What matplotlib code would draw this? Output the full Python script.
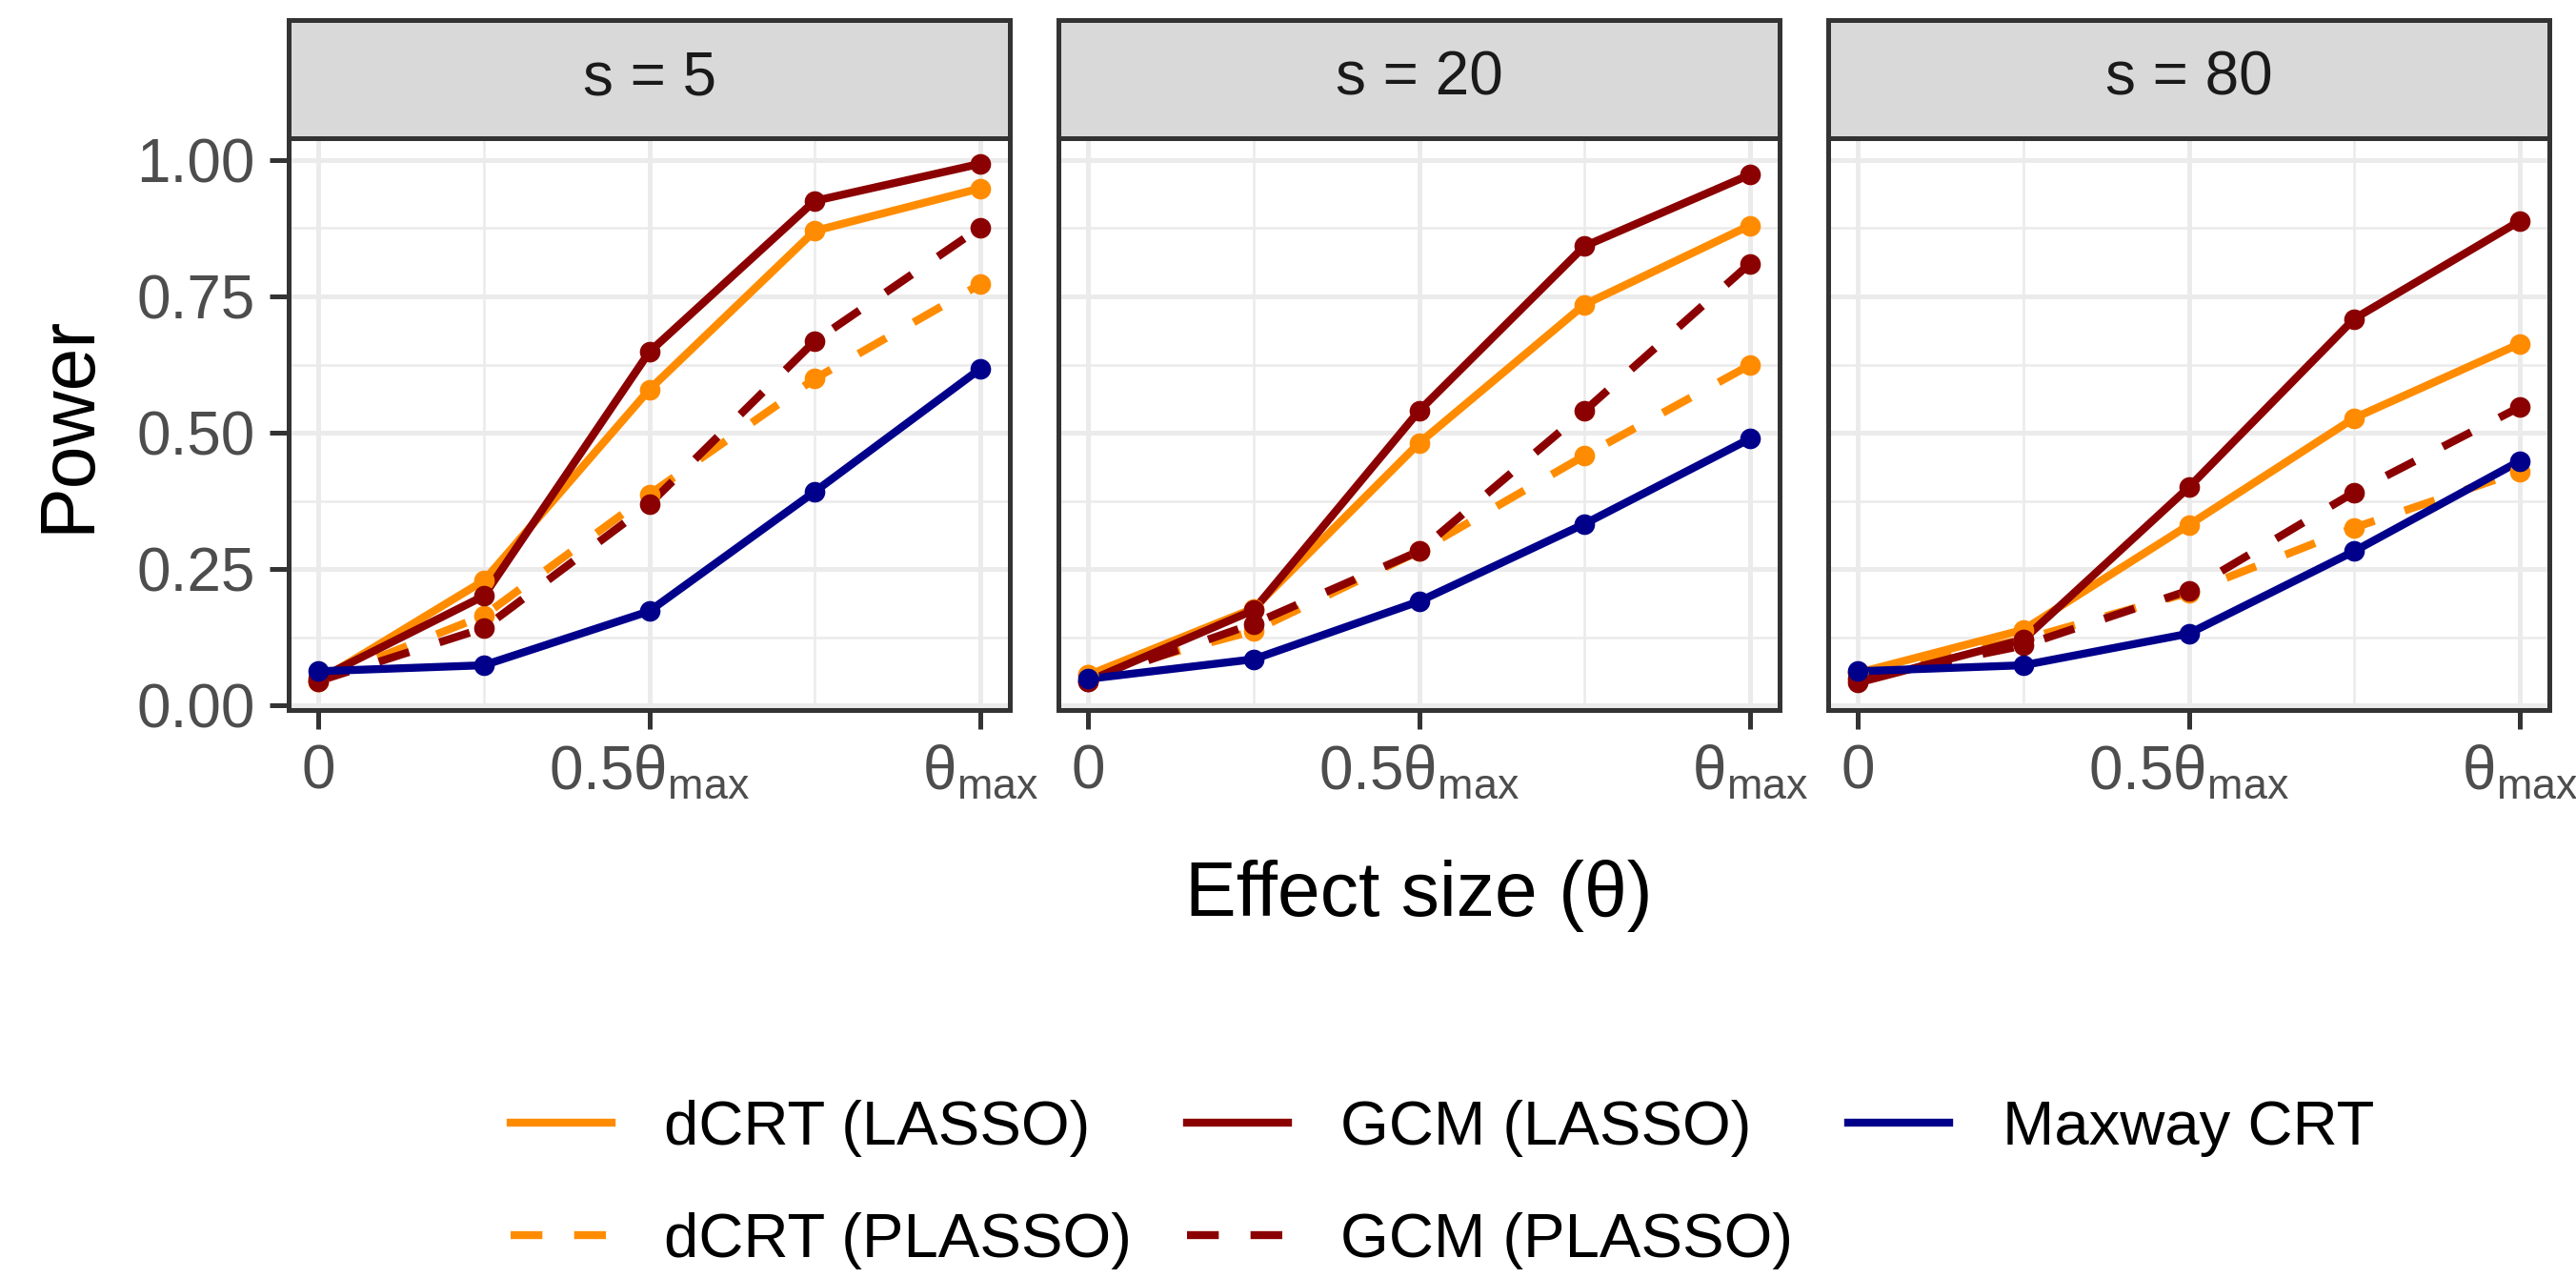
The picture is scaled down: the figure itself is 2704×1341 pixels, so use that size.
import matplotlib
matplotlib.use("Agg")
import matplotlib.pyplot as plt
from matplotlib.lines import Line2D

plt.rcParams["font.family"] = ["Liberation Sans", "DejaVu Sans"]
plt.rcParams["mathtext.fontset"] = "custom"
plt.rcParams["mathtext.rm"] = "Liberation Sans"
plt.rcParams["mathtext.it"] = "Liberation Sans:italic"

# Effect sizes (fraction of theta_max)
theta = [0.0, 0.25, 0.5, 0.75, 1.0]
panels = ["s = 5", "s = 20", "s = 80"]

dcrt_lasso = [
    [0.045, 0.229, 0.579, 0.870, 0.948],
    [0.056, 0.178, 0.481, 0.735, 0.880],
    [0.060, 0.139, 0.331, 0.527, 0.663],
]
dcrt_plasso = [
    [0.045, 0.165, 0.387, 0.599, 0.772],
    [0.056, 0.137, 0.283, 0.458, 0.624],
    [0.060, 0.121, 0.207, 0.326, 0.429],
]
gcm_lasso = [
    [0.049, 0.201, 0.648, 0.925, 0.993],
    [0.045, 0.175, 0.540, 0.842, 0.973],
    [0.042, 0.121, 0.400, 0.709, 0.888],
]
gcm_plasso = [
    [0.045, 0.142, 0.369, 0.668, 0.876],
    [0.045, 0.150, 0.283, 0.540, 0.810],
    [0.049, 0.110, 0.211, 0.391, 0.547],
]
maxway = [
    [0.063, 0.074, 0.173, 0.392, 0.617],
    [0.049, 0.085, 0.191, 0.333, 0.489],
    [0.063, 0.074, 0.132, 0.283, 0.448],
]

methods = ["dCRT (LASSO)", "dCRT (PLASSO)", "GCM (LASSO)", "GCM (PLASSO)", "Maxway CRT"]
method_data = [dcrt_lasso, dcrt_plasso, gcm_lasso, gcm_plasso, maxway]
method_colors = ["#FF8C00", "#FF8C00", "#8B0000", "#8B0000", "#00008B"]
method_dashed = [False, True, False, True, False]

y_ticks = [0.0, 0.25, 0.5, 0.75, 1.0]
y_ticklabels = ["0.00", "0.25", "0.50", "0.75", "1.00"]
x_ticks = [0.0, 0.5, 1.0]
x_ticklabels = ["0", r"$\mathrm{0.5θ_{max}}$", r"$\mathrm{θ_{max}}$"]

W, H = 2704, 1341
fig = plt.figure(figsize=(W / 200, H / 200), dpi=200)
fig.patch.set_facecolor("white")

border = "#333333"
grid_col = "#EBEBEB"
lw = 3.0
panel_left = [303, 1111, 1919]
panel_w = 757
panel_top, panel_bot, strip_top = 145, 745, 21

for i, name in enumerate(panels):
    ax = fig.add_axes([panel_left[i] / W, 1 - panel_bot / H, panel_w / W,
                       (panel_bot - panel_top) / H])
    ax.set_xlim(-0.045, 1.045)
    ax.set_ylim(-0.008, 1.04)
    ax.set_xticks(x_ticks)
    ax.set_xticks([0.25, 0.75], minor=True)
    ax.set_yticks(y_ticks)
    ax.set_yticks([0.125, 0.375, 0.625, 0.875], minor=True)
    ax.grid(True, which="major", color=grid_col, lw=1.8, zorder=0)
    ax.grid(True, which="minor", color=grid_col, lw=0.9, zorder=0)
    ax.set_axisbelow(True)
    ax.tick_params(which="minor", length=0)
    ax.tick_params(which="major", length=7.2, width=1.8, color=border,
                   labelsize=23, labelcolor="#4D4D4D", pad=5.5)
    ax.set_xticklabels(x_ticklabels)
    if i == 0:
        ax.set_yticklabels(y_ticklabels)
        ax.set_ylabel("Power", fontsize=29, labelpad=12)
    else:
        ax.set_yticklabels([])
        ax.tick_params(axis="y", length=0)
    for sp in ax.spines.values():
        sp.set_color(border)
        sp.set_linewidth(1.8)

    for vals, col, dashed in zip(method_data, method_colors, method_dashed):
        ax.plot(theta, vals[i], color=col, lw=lw,
                linestyle=(0, (4, 4)) if dashed else "-", zorder=3,
                solid_capstyle="butt")
    for vals, col in zip(method_data, method_colors):
        ax.plot(theta, vals[i], "o", color=col, ms=7.8, mew=0, zorder=4)

    sax = fig.add_axes([panel_left[i] / W, 1 - panel_top / H, panel_w / W,
                        (panel_top - strip_top) / H])
    sax.set_facecolor("#D9D9D9")
    sax.set_xticks([])
    sax.set_yticks([])
    for sp in sax.spines.values():
        sp.set_color(border)
        sp.set_linewidth(1.8)
    sax.text(0.5, 0.5, name, ha="center", va="center", fontsize=23,
             color="#1A1A1A", transform=sax.transAxes)

fig.text(1489 / W, 1 - 940 / H, "Effect size (θ)", ha="center", va="center",
         fontsize=29)

handles = [Line2D([], [], color=c, lw=lw, linestyle=(0, (4, 4)) if d else "-")
           for c, d in zip(method_colors, method_dashed)]
fig.legend(handles, methods, ncol=3, loc="center",
           bbox_to_anchor=(1514 / W, 1 - 1243 / H), frameon=False,
           fontsize=23.5, handlelength=1.62, handletextpad=0.85,
           columnspacing=0.89, labelspacing=0.89)

fig.savefig("out.png", dpi=200, facecolor="white")
